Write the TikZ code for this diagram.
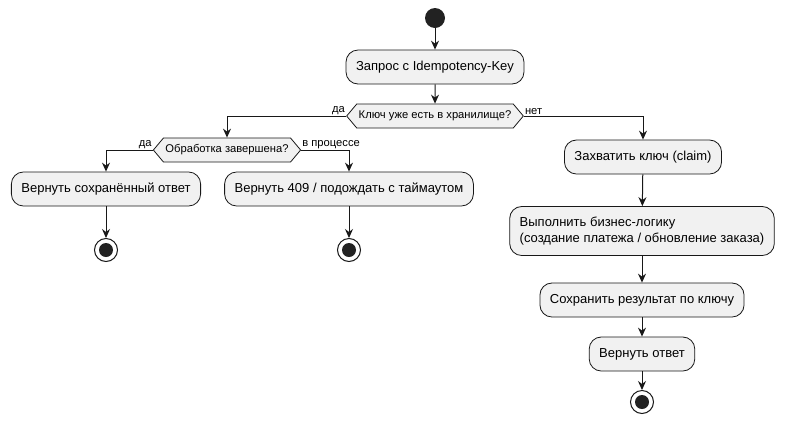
\documentclass[tikz,border=0pt]{standalone}
\usepackage{fontspec}
\setmainfont{Liberation Sans}
\usepackage{xcolor}
\definecolor{mfill}{HTML}{F1F1F1}
\definecolor{mline}{HTML}{181818}
\definecolor{mdot}{HTML}{222222}
\usetikzlibrary{shapes.symbols,arrows.meta}

\begin{document}
\begin{tikzpicture}[x=1pt,y=-1pt,
        act/.style={draw=mline, fill=mfill, line width=0.8pt, rounded corners=12pt, minimum height=34pt, inner xsep=10pt, font=\fontsize{13}{16}\selectfont},
        cond/.style={draw=mline, fill=mfill, line width=0.8pt, signal, signal to=east and west, signal pointer angle=100, minimum height=24pt, inner xsep=2pt, font=\fontsize{11.2}{13}\selectfont},
        start/.style={circle, fill=mdot, minimum size=20pt, inner sep=0pt},
        stop/.style={circle, draw=mline, line width=1pt, fill=white, minimum size=23pt, inner sep=0pt,
            path picture={\fill[mdot] (path picture bounding box.center) circle (7pt);}},
        flow/.style={-{Stealth[length=9pt,width=8pt,inset=3pt]}, draw=mline, line width=1pt},
        lbl/.style={font=\fontsize{11.2}{13}\selectfont, inner sep=1pt}]
        \useasboundingbox (0,0) rectangle (788,424);

        \node[start] (start) at (435,18) {};
        \node[act] (req) at (435,67) {Запрос с Idempotency-Key};
        \node[cond] (q1) at (435,116) {Ключ уже есть в хранилище?};
        \node[cond] (q2) at (227,150) {Обработка завершена?};
        \node[act] (cached) at (106,189) {Вернуть сохранённый ответ};
        \node[stop] (e1) at (106,250) {};
        \node[act] (wait) at (349,189) {Вернуть 409 / подождать с таймаутом};
        \node[stop] (e2) at (349,250) {};
        \node[act] (claim) at (643,157) {Захватить ключ (claim)};
        \node[act, align=left, minimum height=49pt] (biz) at (642,231) {Выполнить бизнес-логику\\(создание платежа / обновление заказа)};
        \node[act] (save) at (642,300) {Сохранить результат по ключу};
        \node[act] (reply) at (642,354) {Вернуть ответ};
        \node[stop] (e3) at (642,402) {};

        \draw[flow] (start) -- (req);
        \draw[flow] (req) -- (q1);
        \draw[flow] (q1.west) -| (q2.north);
        \draw[flow] (q1.east) -| (claim.north);
        \draw[flow] (q2.west) -| (cached.north);
        \draw[flow] (q2.east) -| (wait.north);
        \draw[flow] (cached) -- (e1);
        \draw[flow] (wait) -- (e2);
        \draw[flow] (claim) -- (biz);
        \draw[flow] (biz) -- (save);
        \draw[flow] (save) -- (reply);
        \draw[flow] (reply) -- (e3);

        \node[lbl, anchor=south east] (yes1) at (q1.west) {да};
        \node[lbl, anchor=south west] (no1) at (q1.east) {нет};
        \node[lbl, anchor=south east] (yes2) at (q2.west) {да};
        \node[lbl, anchor=south west] (busy) at (q2.east) {в процессе};
\end{tikzpicture}
\end{document}
